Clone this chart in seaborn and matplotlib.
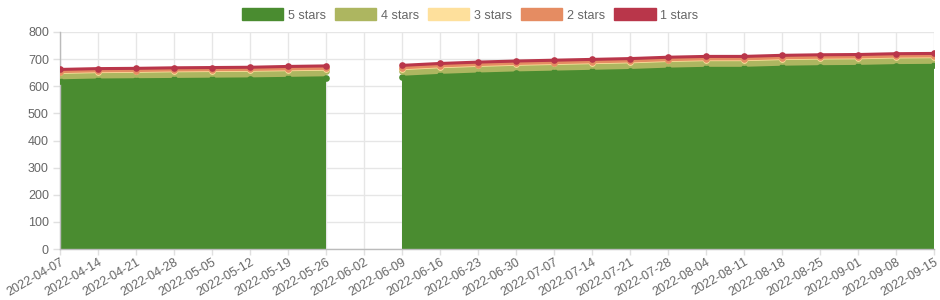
import numpy as np
import pandas as pd
import matplotlib
matplotlib.use("Agg")
import matplotlib.pyplot as plt
from matplotlib.patches import Patch
import seaborn as sns

dates = ["2022-04-07", "2022-04-14", "2022-04-21", "2022-04-28", "2022-05-05", "2022-05-12",
         "2022-05-19", "2022-05-26", "2022-06-02", "2022-06-09", "2022-06-16", "2022-06-23",
         "2022-06-30", "2022-07-07", "2022-07-14", "2022-07-21", "2022-07-28", "2022-08-04",
         "2022-08-11", "2022-08-18", "2022-08-25", "2022-09-01", "2022-09-08", "2022-09-15"]
nan = np.nan
stars5 = [620, 623, 624, 625, 626, 627, 629, 631, nan, 633, 640, 645, 649, 652, 655, 658,
          663, 666, 666, 670, 672, 673, 676, 677]
stars4 = [23, 23, 23, 24, 24, 24, 24, 24, nan, 24, 24, 24, 24, 24, 24, 24,
          24, 24, 24, 24, 24, 24, 24, 24]
stars3 = [8, 8, 8, 8, 8, 8, 8, 8, nan, 8, 8, 8, 8, 8, 8, 8,
          8, 8, 8, 8, 8, 8, 8, 8]
stars2 = [3, 3, 3, 3, 3, 3, 3, 3, nan, 3, 3, 3, 3, 3, 3, 3,
          3, 3, 3, 3, 3, 3, 3, 3]
stars1 = [8, 8, 8, 8, 8, 8, 9, 9, nan, 9, 9, 9, 9, 9, 9, 9,
          9, 9, 9, 9, 9, 9, 9, 9]
series_names = ["5 stars", "4 stars", "3 stars", "2 stars", "1 stars"]
colors = ["#4a8c30", "#adb660", "#fee09c", "#e58c62", "#b9364a"]

sns.set_theme(style="white")
plt.rcParams['font.family'] = ['Liberation Sans', 'DejaVu Sans']

fig = plt.figure(figsize=(9.4, 3.0), dpi=100)
ax = fig.add_axes([60/940, 1-249/300, (934-60)/940, (249-32)/300])

x = np.arange(len(dates))
vals = np.array([stars5, stars4, stars3, stars2, stars1], dtype=float)
cum = np.cumsum(vals, axis=0)
seg = np.where(x < 8, 0, 1)

rows = []
for i, name in enumerate(series_names):
    for j in range(len(dates)):
        if not np.isnan(cum[i, j]):
            rows.append({"x": x[j], "y": cum[i, j], "series": name, "seg": seg[j]})
df = pd.DataFrame(rows)

# fills, stacked
for i in range(len(series_names)):
    lower = np.zeros(len(x)) if i == 0 else cum[i-1]
    lower = np.where(np.isnan(cum[i]), np.nan, lower)
    ax.fill_between(x, lower, cum[i], color=colors[i], linewidth=0, zorder=2 + i * 0.1)

# lines and points, drawn bottom to top
for i, name in enumerate(series_names):
    sub = df[df["series"] == name]
    sns.lineplot(data=sub, x="x", y="y", units="seg", estimator=None, color=colors[i],
                 linewidth=2.2, marker="o", markersize=4.8, markeredgewidth=0,
                 ax=ax, zorder=3 + i * 0.1, legend=False)

ax.set_xlim(0, len(dates) - 1)
ax.set_ylim(0, 800)
ax.set_yticks(range(0, 801, 100))
ax.set_xticks(x)
ax.set_xticklabels(dates, rotation=30, ha="right", rotation_mode="anchor")
ax.grid(True, color="#e6e6e6", linewidth=1, zorder=0)
ax.set_axisbelow(True)
ax.tick_params(axis="both", colors="#e0e0e0", labelcolor="#666666", labelsize=9,
               length=5, width=1, pad=3, bottom=True, left=True)
ax.tick_params(axis="x", pad=1, length=4)
for s in ["top", "right"]:
    ax.spines[s].set_visible(False)
for s in ["left", "bottom"]:
    ax.spines[s].set_color("#bbbbbb")
    ax.spines[s].set_linewidth(1)
ax.set_xlabel("")
ax.set_ylabel("")

handles = [Patch(facecolor=c, edgecolor=c, linewidth=1) for c in colors]
fig.legend(handles, series_names, loc="center", bbox_to_anchor=(0.5, 1 - 15/300), ncol=5,
           frameon=False, fontsize=9, labelcolor="#666666", handlelength=3.3,
           handleheight=1.1, handletextpad=0.35, columnspacing=0.75, borderaxespad=0)

fig.savefig("out.png", dpi=100)
